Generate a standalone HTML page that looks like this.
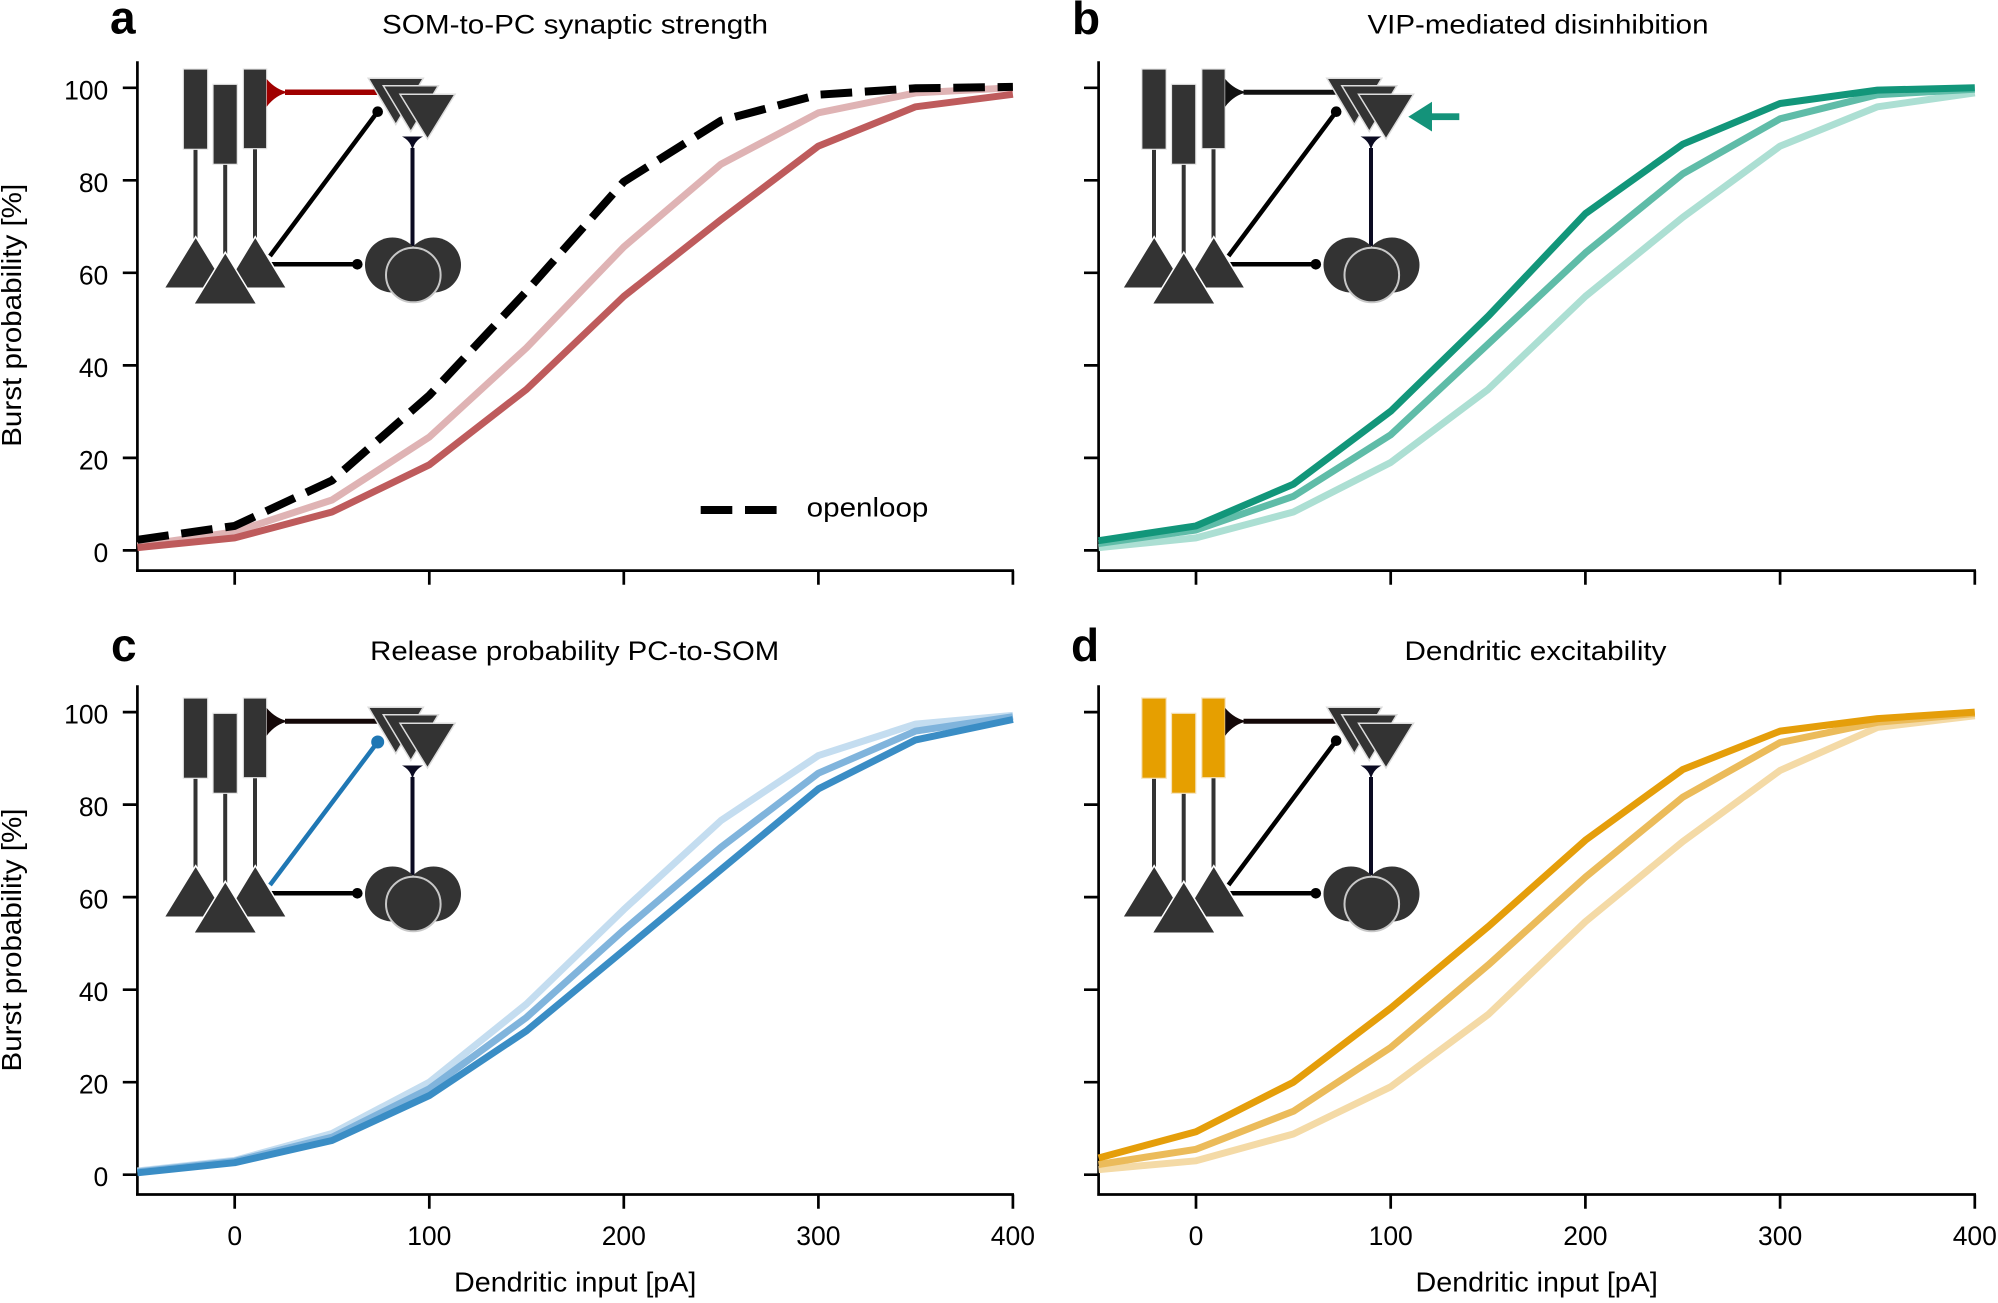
<!DOCTYPE html>
<html>
<head>
<meta charset="utf-8">
<style>
html,body{margin:0;padding:0;background:#fff;}
svg{display:block;}
text{font-family:"Liberation Sans",Arial,Helvetica,sans-serif;fill:#000;}
</style>
</head>
<body>
<svg width="1998" height="1303" viewBox="0 0 1998 1303" xmlns="http://www.w3.org/2000/svg">
<rect width="1998" height="1303" fill="#fff"/>

<!-- ===== Panel letters & titles ===== -->
<text x="110" y="33.5" font-size="46" font-weight="bold">a</text>
<text x="1072" y="34" font-size="46" font-weight="bold">b</text>
<text x="111" y="661" font-size="46" font-weight="bold">c</text>
<text x="1071" y="661" font-size="46" font-weight="bold">d</text>

<text x="575" y="33.5" font-size="27" text-anchor="middle" textLength="386" lengthAdjust="spacingAndGlyphs">SOM-to-PC synaptic strength</text>
<text x="1538" y="33.5" font-size="27" text-anchor="middle" textLength="341" lengthAdjust="spacingAndGlyphs">VIP-mediated disinhibition</text>
<text x="574.7" y="660" font-size="27" text-anchor="middle" textLength="409" lengthAdjust="spacingAndGlyphs">Release probability PC-to-SOM</text>
<text x="1535.5" y="660" font-size="27" text-anchor="middle" textLength="262" lengthAdjust="spacingAndGlyphs">Dendritic excitability</text>

<!-- ===== Y labels ===== -->
<text transform="translate(21,315.3) rotate(-90)" font-size="28" text-anchor="middle" textLength="263" lengthAdjust="spacingAndGlyphs">Burst probability [%]</text>
<text transform="translate(21,940) rotate(-90)" font-size="28" text-anchor="middle" textLength="263" lengthAdjust="spacingAndGlyphs">Burst probability [%]</text>

<!-- ===== X labels ===== -->
<text x="575.2" y="1291.7" font-size="28" text-anchor="middle" textLength="242.3" lengthAdjust="spacingAndGlyphs">Dendritic input [pA]</text>
<text x="1536.7" y="1291.7" font-size="28" text-anchor="middle" textLength="242.3" lengthAdjust="spacingAndGlyphs">Dendritic input [pA]</text>

<!-- ===== Y tick labels (a, c) ===== -->
<g font-size="26.5" text-anchor="end">
<text x="108.3" y="562">0</text>
<text x="108.3" y="469.4">20</text>
<text x="108.3" y="376.9">40</text>
<text x="108.3" y="284.3">60</text>
<text x="108.3" y="191.8">80</text>
<text x="108.3" y="99.3">100</text>
<text x="108.3" y="1186.2">0</text>
<text x="108.3" y="1093.7">20</text>
<text x="108.3" y="1001.2">40</text>
<text x="108.3" y="908.6">60</text>
<text x="108.3" y="816.1">80</text>
<text x="108.3" y="723.6">100</text>
</g>

<!-- ===== X tick labels (c, d) ===== -->
<g font-size="26.5" text-anchor="middle">
<text x="234.7" y="1245">0</text>
<text x="429.3" y="1245">100</text>
<text x="623.8" y="1245">200</text>
<text x="818.4" y="1245">300</text>
<text x="1012.9" y="1245">400</text>
<text x="1196" y="1245">0</text>
<text x="1390.7" y="1245">100</text>
<text x="1585.4" y="1245">200</text>
<text x="1780.1" y="1245">300</text>
<text x="1974.8" y="1245">400</text>
</g>

<!-- ===== Spines & ticks ===== -->
<g stroke="#000" stroke-width="2.7" fill="none">
<!-- a -->
<path d="M137.4,61.3 V571.9 M136,570.6 H1014"/>
<path d="M122.8,550.4H137.4 M122.8,457.9H137.4 M122.8,365.4H137.4 M122.8,272.8H137.4 M122.8,180.3H137.4 M122.8,87.8H137.4"/>
<path d="M234.7,570.6V584.8 M429.3,570.6V584.8 M623.8,570.6V584.8 M818.4,570.6V584.8 M1012.9,570.6V584.8"/>
<!-- b -->
<path d="M1098.6,61.3 V571.9 M1097.2,570.6 H1976"/>
<path d="M1084,550.4H1098.6 M1084,457.9H1098.6 M1084,365.4H1098.6 M1084,272.8H1098.6 M1084,180.3H1098.6 M1084,87.8H1098.6"/>
<path d="M1196,570.6V584.8 M1390.7,570.6V584.8 M1585.4,570.6V584.8 M1780.1,570.6V584.8 M1974.8,570.6V584.8"/>
<!-- c -->
<path d="M137.4,685.3 V1195.8 M136,1194.5 H1014"/>
<path d="M122.8,1174.7H137.4 M122.8,1082.2H137.4 M122.8,989.7H137.4 M122.8,897.1H137.4 M122.8,804.6H137.4 M122.8,712.1H137.4"/>
<path d="M234.7,1194.5V1208.7 M429.3,1194.5V1208.7 M623.8,1194.5V1208.7 M818.4,1194.5V1208.7 M1012.9,1194.5V1208.7"/>
<!-- d -->
<path d="M1098.6,685.3 V1195.8 M1097.2,1194.5 H1976"/>
<path d="M1084,1174.7H1098.6 M1084,1082.2H1098.6 M1084,989.7H1098.6 M1084,897.1H1098.6 M1084,804.6H1098.6 M1084,712.1H1098.6"/>
<path d="M1196,1194.5V1208.7 M1390.7,1194.5V1208.7 M1585.4,1194.5V1208.7 M1780.1,1194.5V1208.7 M1974.8,1194.5V1208.7"/>
</g>

<!-- ===== Curves ===== -->
<g fill="none" stroke-width="7" stroke-linejoin="round" stroke-linecap="butt">
<!-- a -->
<polyline stroke="#dfb3b4" points="137.4,545.8 234.7,531.9 332,500 429.3,437.1 526.5,347.8 623.8,246.9 721.1,164.1 818.4,112.8 915.6,92.9 1012.9,87.8"/>
<polyline stroke="#be5b5c" points="137.4,547.6 234.7,537.9 332,512 429.3,464.8 526.5,389.4 623.8,296.4 721.1,219.6 818.4,146.1 915.6,106.8 1012.9,94.3"/>
<polyline stroke="#000" stroke-width="8" stroke-dasharray="31.6 12.7" points="137.4,539.8 234.7,525.9 332,480.5 429.3,395.4 526.5,291.3 623.8,181.7 721.1,120.6 818.4,94.7 915.6,88.3 1012.9,86.9"/>
<!-- b -->
<polyline stroke="#acdfd3" points="1098.6,547.6 1196,537.9 1293.4,512 1390.7,462.5 1488.1,389.4 1585.4,296.4 1682.8,217.3 1780.1,146.1 1877.5,106.8 1974.8,92.9"/>
<polyline stroke="#5fbca8" points="1098.6,543.5 1196,530 1293.4,496.3 1390.7,434.8 1488.1,344.1 1585.4,252.9 1682.8,173.8 1780.1,118.8 1877.5,94.7 1974.8,89.2"/>
<polyline stroke="#12967a" points="1098.6,540.7 1196,525.9 1293.4,484.2 1390.7,411.2 1488.1,316.3 1585.4,213.6 1682.8,144.2 1780.1,103.5 1877.5,90.1 1974.8,87.8"/>
<!-- c -->
<polyline stroke="#c4ddf0" points="137.4,1171 234.7,1160.4 332,1133.5 429.3,1082.2 526.5,1004 623.8,909.6 721.1,820.4 818.4,755.6 915.6,724.1 1012.9,715.3"/>
<polyline stroke="#80b4dc" points="137.4,1171.9 234.7,1161.3 332,1137.2 429.3,1088.7 526.5,1017.4 623.8,930 721.1,847.2 818.4,773.2 915.6,731.1 1012.9,716.7"/>
<polyline stroke="#3a8dc5" points="137.4,1172.8 234.7,1162.7 332,1140.5 429.3,1095.6 526.5,1030.8 623.8,950.3 721.1,869.4 818.4,788.9 915.6,739.9 1012.9,719.5"/>
<!-- d -->
<polyline stroke="#f4daa6" points="1098.6,1169.6 1196,1160.8 1293.4,1134 1390.7,1086.8 1488.1,1014.6 1585.4,921.7 1682.8,841.6 1780.1,770.4 1877.5,727.4 1974.8,715.8"/>
<polyline stroke="#ebbb5a" points="1098.6,1164.5 1196,1149.3 1293.4,1111.3 1390.7,1047.5 1488.1,965.1 1585.4,877.2 1682.8,797.2 1780.1,742.6 1877.5,722.3 1974.8,713.5"/>
<polyline stroke="#e59e0a" points="1098.6,1158 1196,1131.7 1293.4,1082.2 1390.7,1008.2 1488.1,926.7 1585.4,840.2 1682.8,769.5 1780.1,731.1 1877.5,718.6 1974.8,712.1"/>
</g>

<!-- ===== Legend (a) ===== -->
<rect x="700.7" y="506" width="31.6" height="8" fill="#000"/>
<rect x="745" y="506" width="31.6" height="8" fill="#000"/>
<text x="806.7" y="516.7" font-size="27" textLength="121.7" lengthAdjust="spacingAndGlyphs">openloop</text>

<!-- ===== Insets ===== -->
<!-- Panel a -->
<g transform="translate(0,0)">
 <g stroke="#333" stroke-width="4">
  <line x1="195.5" y1="148" x2="195.5" y2="240"/>
  <line x1="225.2" y1="163" x2="225.2" y2="255"/>
  <line x1="255" y1="148" x2="255" y2="240"/>
 </g>
 <g fill="#333" stroke="#e6e6e6" stroke-width="1.2">
  <rect x="183.3" y="69" width="24.4" height="80.3"/>
  <rect x="213" y="84.3" width="24.3" height="80"/>
  <rect x="243.3" y="69" width="23.4" height="79.7"/>
 </g>
 <path d="M266.7,79 Q276,90 289,92.3 Q276,94.6 266.7,106.7 Z" fill="#a00000"/>
 <line x1="285" y1="92.3" x2="377" y2="92.3" stroke="#a00000" stroke-width="5.5"/>
 <line x1="270" y1="256" x2="377.7" y2="111.7" stroke="#000" stroke-width="4.5"/>
 <circle cx="377.7" cy="111.7" r="5.3" fill="#000"/>
 <line x1="270" y1="264.3" x2="357.3" y2="264.3" stroke="#000" stroke-width="4.5"/>
 <circle cx="357.3" cy="264.3" r="5.3" fill="#000"/>
 <g fill="#333" stroke="#fff" stroke-width="1.5">
  <polygon points="195.7,236.7 164,288.3 227.3,288.3"/>
  <polygon points="255.3,236.7 224,288.3 286.7,288.3"/>
  <polygon points="225.3,252.3 193.5,304.3 257,304.3"/>
 </g>
 <g fill="#333" stroke="#ddd" stroke-width="1.5">
  <polygon points="368.3,78.3 423.3,78.3 395.8,124.5"/>
  <polygon points="383.3,85.7 438.3,85.7 410.8,131.5"/>
  <polygon points="400,94.3 455,94.3 427.5,139"/>
 </g>
 <line x1="412.5" y1="148" x2="412.5" y2="246" stroke="#0b0b22" stroke-width="4"/>
 <path d="M402,136.5 L423,136.5 Q414,141 412.5,151 Q411,141 402,136.5Z" fill="#0b0b22"/>
 <circle cx="392.5" cy="265" r="27.5" fill="#333"/>
 <circle cx="433.5" cy="265" r="27.5" fill="#333"/>
 <circle cx="413.3" cy="275" r="27.3" fill="#333" stroke="#c8c8c8" stroke-width="2"/>
</g>

<!-- Panel b -->
<g transform="translate(958.5,0)">
 <g stroke="#333" stroke-width="4">
  <line x1="195.5" y1="148" x2="195.5" y2="240"/>
  <line x1="225.2" y1="163" x2="225.2" y2="255"/>
  <line x1="255" y1="148" x2="255" y2="240"/>
 </g>
 <g fill="#333" stroke="#e6e6e6" stroke-width="1.2">
  <rect x="183.3" y="69" width="24.4" height="80.3"/>
  <rect x="213" y="84.3" width="24.3" height="80"/>
  <rect x="243.3" y="69" width="23.4" height="79.7"/>
 </g>
 <path d="M266.7,79 Q276,90 289,92.3 Q276,94.6 266.7,106.7 Z" fill="#111"/>
 <line x1="285" y1="92.3" x2="377" y2="92.3" stroke="#111" stroke-width="5"/>
 <line x1="270" y1="256" x2="377.7" y2="111.7" stroke="#000" stroke-width="4.5"/>
 <circle cx="377.7" cy="111.7" r="5.3" fill="#000"/>
 <line x1="270" y1="264.3" x2="357.3" y2="264.3" stroke="#000" stroke-width="4.5"/>
 <circle cx="357.3" cy="264.3" r="5.3" fill="#000"/>
 <g fill="#333" stroke="#fff" stroke-width="1.5">
  <polygon points="195.7,236.7 164,288.3 227.3,288.3"/>
  <polygon points="255.3,236.7 224,288.3 286.7,288.3"/>
  <polygon points="225.3,252.3 193.5,304.3 257,304.3"/>
 </g>
 <g fill="#333" stroke="#ddd" stroke-width="1.5">
  <polygon points="368.3,78.3 423.3,78.3 395.8,124.5"/>
  <polygon points="383.3,85.7 438.3,85.7 410.8,131.5"/>
  <polygon points="400,94.3 455,94.3 427.5,139"/>
 </g>
 <line x1="412.5" y1="148" x2="412.5" y2="246" stroke="#0b0b22" stroke-width="4"/>
 <path d="M402,136.5 L423,136.5 Q414,141 412.5,151 Q411,141 402,136.5Z" fill="#0b0b22"/>
 <circle cx="392.5" cy="265" r="27.5" fill="#333"/>
 <circle cx="433.5" cy="265" r="27.5" fill="#333"/>
 <circle cx="413.3" cy="275" r="27.3" fill="#333" stroke="#c8c8c8" stroke-width="2"/>
</g>
<!-- green arrow b -->
<polygon points="1408.3,116.7 1432,101.7 1432,131.5" fill="#14937a"/>
<rect x="1430" y="113.3" width="29.3" height="6.8" fill="#14937a"/>

<!-- Panel c -->
<g transform="translate(0,629)">
 <g stroke="#333" stroke-width="4">
  <line x1="195.5" y1="148" x2="195.5" y2="240"/>
  <line x1="225.2" y1="163" x2="225.2" y2="255"/>
  <line x1="255" y1="148" x2="255" y2="240"/>
 </g>
 <g fill="#333" stroke="#e6e6e6" stroke-width="1.2">
  <rect x="183.3" y="69" width="24.4" height="80.3"/>
  <rect x="213" y="84.3" width="24.3" height="80"/>
  <rect x="243.3" y="69" width="23.4" height="79.7"/>
 </g>
 <path d="M266.7,79 Q276,90 289,92.3 Q276,94.6 266.7,106.7 Z" fill="#140808"/>
 <line x1="285" y1="92.3" x2="377" y2="92.3" stroke="#140808" stroke-width="5"/>
 <line x1="270" y1="256" x2="377.7" y2="113" stroke="#1f77b4" stroke-width="4.5"/>
 <circle cx="377.7" cy="113" r="6.5" fill="#1f77b4"/>
 <line x1="270" y1="264.3" x2="357.3" y2="264.3" stroke="#000" stroke-width="4.5"/>
 <circle cx="357.3" cy="264.3" r="5.3" fill="#000"/>
 <g fill="#333" stroke="#fff" stroke-width="1.5">
  <polygon points="195.7,236.7 164,288.3 227.3,288.3"/>
  <polygon points="255.3,236.7 224,288.3 286.7,288.3"/>
  <polygon points="225.3,252.3 193.5,304.3 257,304.3"/>
 </g>
 <g fill="#333" stroke="#ddd" stroke-width="1.5">
  <polygon points="368.3,78.3 423.3,78.3 395.8,124.5"/>
  <polygon points="383.3,85.7 438.3,85.7 410.8,131.5"/>
  <polygon points="400,94.3 455,94.3 427.5,139"/>
 </g>
 <line x1="412.5" y1="148" x2="412.5" y2="246" stroke="#0b0b22" stroke-width="4"/>
 <path d="M402,136.5 L423,136.5 Q414,141 412.5,151 Q411,141 402,136.5Z" fill="#0b0b22"/>
 <circle cx="392.5" cy="265" r="27.5" fill="#333"/>
 <circle cx="433.5" cy="265" r="27.5" fill="#333"/>
 <circle cx="413.3" cy="275" r="27.3" fill="#333" stroke="#c8c8c8" stroke-width="2"/>
</g>

<!-- Panel d -->
<g transform="translate(958.5,629)">
 <g stroke="#333" stroke-width="4">
  <line x1="195.5" y1="148" x2="195.5" y2="240"/>
  <line x1="225.2" y1="163" x2="225.2" y2="255"/>
  <line x1="255" y1="148" x2="255" y2="240"/>
 </g>
 <g fill="#e69f00" stroke="#f6e3bd" stroke-width="1.2">
  <rect x="183.3" y="69" width="24.4" height="80.3"/>
  <rect x="213" y="84.3" width="24.3" height="80"/>
  <rect x="243.3" y="69" width="23.4" height="79.7"/>
 </g>
 <path d="M266.7,79 Q276,90 289,92.3 Q276,94.6 266.7,106.7 Z" fill="#140808"/>
 <line x1="285" y1="92.3" x2="377" y2="92.3" stroke="#140808" stroke-width="5"/>
 <line x1="270" y1="256" x2="377.7" y2="111.7" stroke="#000" stroke-width="4.5"/>
 <circle cx="377.7" cy="111.7" r="5.3" fill="#000"/>
 <line x1="270" y1="264.3" x2="357.3" y2="264.3" stroke="#000" stroke-width="4.5"/>
 <circle cx="357.3" cy="264.3" r="5.3" fill="#000"/>
 <g fill="#333" stroke="#fff" stroke-width="1.5">
  <polygon points="195.7,236.7 164,288.3 227.3,288.3"/>
  <polygon points="255.3,236.7 224,288.3 286.7,288.3"/>
  <polygon points="225.3,252.3 193.5,304.3 257,304.3"/>
 </g>
 <g fill="#333" stroke="#ddd" stroke-width="1.5">
  <polygon points="368.3,78.3 423.3,78.3 395.8,124.5"/>
  <polygon points="383.3,85.7 438.3,85.7 410.8,131.5"/>
  <polygon points="400,94.3 455,94.3 427.5,139"/>
 </g>
 <line x1="412.5" y1="148" x2="412.5" y2="246" stroke="#0b0b22" stroke-width="4"/>
 <path d="M402,136.5 L423,136.5 Q414,141 412.5,151 Q411,141 402,136.5Z" fill="#0b0b22"/>
 <circle cx="392.5" cy="265" r="27.5" fill="#333"/>
 <circle cx="433.5" cy="265" r="27.5" fill="#333"/>
 <circle cx="413.3" cy="275" r="27.3" fill="#333" stroke="#c8c8c8" stroke-width="2"/>
</g>

</svg>
</body>
</html>
